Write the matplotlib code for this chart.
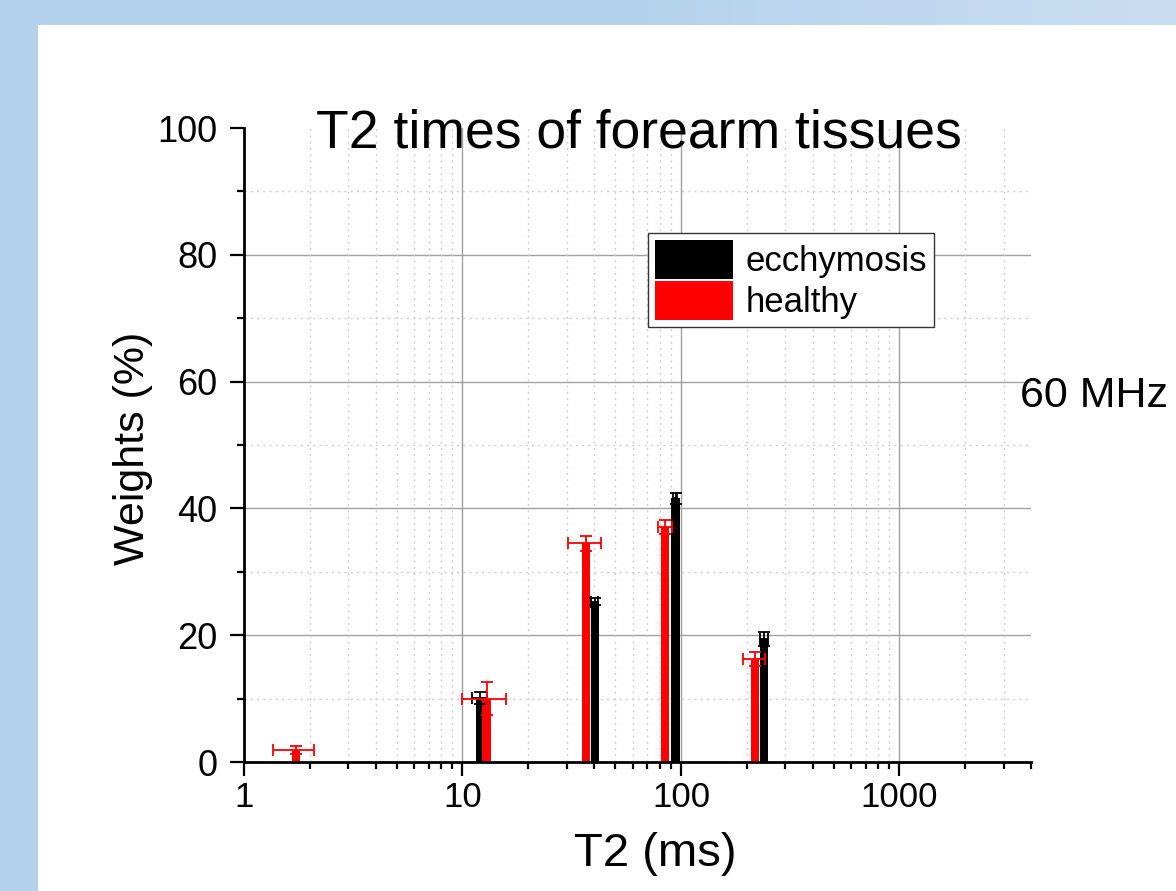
import numpy as np
import matplotlib
matplotlib.use('Agg')
import matplotlib.pyplot as plt
from matplotlib.patches import Rectangle, Patch
from matplotlib.ticker import FixedLocator, FixedFormatter, LogLocator, NullFormatter, MultipleLocator

plt.rcParams['font.family'] = ['Liberation Sans', 'DejaVu Sans']

# ---------------- data ----------------
series_names = ['ecchymosis', 'healthy']

ecchy_t2 = [12.0, 40.4, 94.4, 240.0]
ecchy_weight = [10.1, 25.3, 41.6, 19.4]
ecchy_weight_err = [0.9, 0.5, 0.9, 1.1]
ecchy_t2_err = [0.95, 1.5, 2.0, 11.0]

healthy_t2 = [1.73, 12.9, 36.7, 84.5, 218.0]
healthy_weight = [1.9, 10.0, 34.5, 37.1, 16.2]
healthy_weight_err = [0.6, 2.6, 1.2, 1.1, 1.1]
healthy_t2_err = [0.37, 2.9, 6.2, 6.0, 25.0]

x_ticks = [1, 10, 100, 1000]
x_tick_labels = ['1', '10', '100', '1000']
y_ticks = [0, 20, 40, 60, 80, 100]

# ---------------- figure ----------------
W, H = 1176, 891
fig = plt.figure(figsize=(W / 100, H / 100), dpi=100)

# background gradient + white panel
bg = fig.add_axes([0, 0, 1, 1], zorder=-10)
bg.axis('off')
c1 = np.array([180, 210, 236]) / 255
c2 = np.array([202, 222, 242]) / 255
t = np.clip((np.arange(W) - 600) / (W - 600), 0, 1)
grad = (c1 + (c2 - c1) * t[:, None])[None, :, :]
bg.imshow(grad, aspect='auto', extent=[0, 1, 0, 1])
bg.set_xlim(0, 1)
bg.set_ylim(0, 1)
bg.add_patch(Rectangle((38 / W, 0), 1, 1 - 25 / H, color='white', lw=0))

ax = fig.add_axes([244 / W, 1 - 762 / H, (1031 - 244) / W, (762 - 128) / H])
ax.set_xscale('log')
ax.set_xlim(1, 4000)
ax.set_ylim(0, 100)
ax.patch.set_alpha(0)

# grid (manual, so nothing at the top edge)
for v in [20, 40, 60, 80]:
    ax.axhline(v, color='#a0a0a0', lw=1.0, zorder=0)
for v in [10, 30, 50, 70, 90]:
    ax.axhline(v, color='#cfcfcf', lw=1.0, ls=(0, (1.5, 3)), zorder=0)
for v in [10, 100, 1000]:
    ax.axvline(v, color='#a0a0a0', lw=1.0, zorder=0)
for dec in [1, 10, 100, 1000]:
    for s in range(2, 10):
        if dec * s < 4000:
            ax.axvline(dec * s, color='#cfcfcf', lw=1.0, ls=(0, (1.5, 3)), zorder=0)

# bars with constant width on log axis
BAR_DECADES = 0.039


def log_bars(xs, ys, color):
    xs = np.asarray(xs)
    left = xs * 10 ** (-BAR_DECADES / 2)
    width = xs * 10 ** (BAR_DECADES / 2) - left
    ax.bar(left, ys, width=width, align='edge', color=color, lw=0, zorder=2)


log_bars(ecchy_t2, ecchy_weight, 'black')
log_bars(healthy_t2, healthy_weight, 'red')

ax.errorbar(ecchy_t2, ecchy_weight, yerr=ecchy_weight_err, xerr=ecchy_t2_err,
            fmt='none', ecolor='black', elinewidth=1.3, capsize=4.5, capthick=1.3, zorder=4)
ax.errorbar(healthy_t2, healthy_weight, yerr=healthy_weight_err, xerr=healthy_t2_err,
            fmt='none', ecolor='red', elinewidth=1.3, capsize=4.5, capthick=1.3, zorder=4)

# axes styling
for s in ['top', 'right']:
    ax.spines[s].set_visible(False)
for s in ['left', 'bottom']:
    ax.spines[s].set_linewidth(2)

ax.xaxis.set_major_locator(FixedLocator(x_ticks))
ax.xaxis.set_major_formatter(FixedFormatter(x_tick_labels))
ax.xaxis.set_minor_locator(LogLocator(base=10, subs=np.arange(2, 10)))
ax.xaxis.set_minor_formatter(NullFormatter())
ax.yaxis.set_major_locator(FixedLocator(y_ticks))
ax.yaxis.set_minor_locator(MultipleLocator(10))

ax.tick_params(which='major', direction='out', length=10, width=1.6, labelsize=26, color='black')
ax.tick_params(axis='x', which='major', labelsize=25, pad=4)
ax.tick_params(axis='y', which='major', pad=9)
ax.tick_params(which='minor', direction='out', length=5, width=1.6, color='black')

# texts
fig.text(639 / W, 1 - 148 / H, 'T2 times of forearm tissues', ha='center', va='baseline', fontsize=38.5)
fig.text(133 / W, 1 - 448 / H, 'Weights (%)', rotation=90, ha='center', va='center', fontsize=31)
fig.text(655 / W, 1 - 866 / H, 'T2 (ms)', ha='center', va='baseline', fontsize=34)
fig.text(1020 / W, 1 - 396 / H, '60 MHz', ha='left', va='center', fontsize=31)

handles = [Patch(facecolor='black', edgecolor='none'), Patch(facecolor='red', edgecolor='none')]
leg = fig.legend(handles, series_names, loc='upper left', bbox_to_anchor=(648 / W, 1 - 233 / H),
                 bbox_transform=fig.transFigure, fontsize=25, frameon=True, fancybox=False,
                 edgecolor='#333333', framealpha=1, handlelength=2.25, handleheight=1.35,
                 handletextpad=0.35, labelspacing=0.05, borderpad=0.2, borderaxespad=0)
leg.get_frame().set_linewidth(1.0)

fig.savefig('out.png', dpi=100)
